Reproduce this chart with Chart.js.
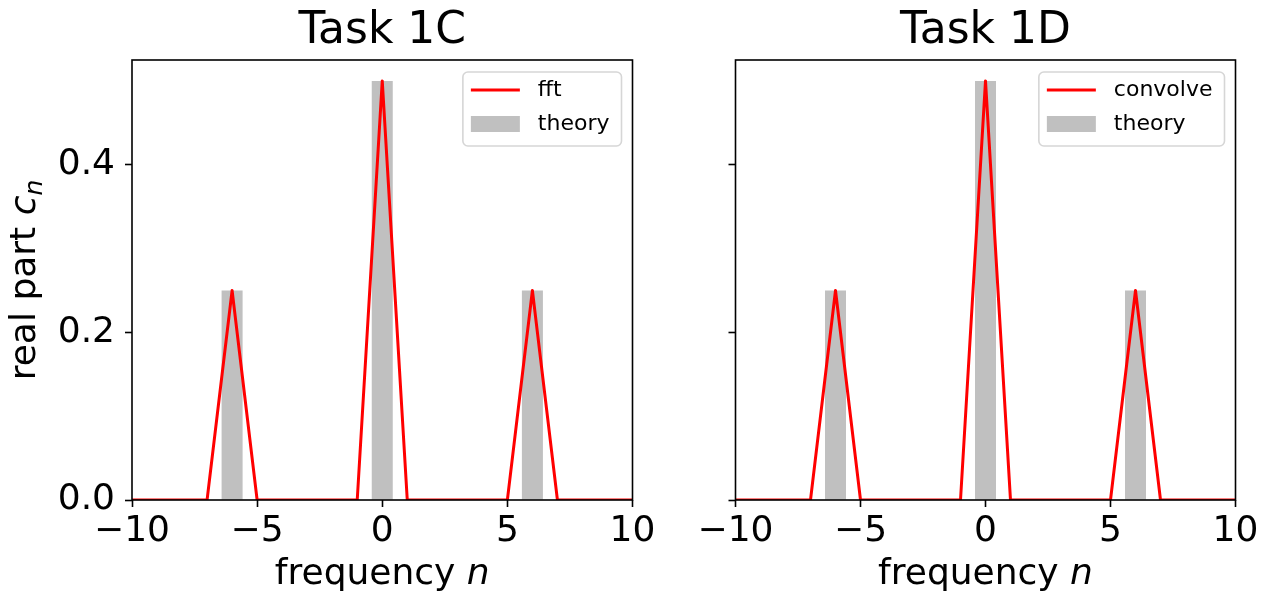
<!DOCTYPE html>
<html>
<head>
<meta charset="utf-8">
<script src="https://cdn.jsdelivr.net/npm/chart.js@4/dist/chart.umd.min.js"></script>
<style>
  html, body { margin: 0; padding: 0; background: #fff; }
  #wrap { position: relative; width: 1270px; height: 603px; }
  canvas { position: absolute; top: 0; }
</style>
</head>
<body>
<div id="wrap">
  <canvas id="c1" width="680" height="603" style="left:0"></canvas>
  <canvas id="c2" width="590" height="603" style="left:680px"></canvas>
</div>
<script>
// data
const freq = [-10, -9, -8, -7, -6, -5, -4, -3, -2, -1, 0, 1, 2, 3, 4, 5, 6, 7, 8, 9, 10];
const fftReal = [0, 0, 0, 0, 0.25, 0, 0, 0, 0, 0, 0.5, 0, 0, 0, 0, 0, 0.25, 0, 0, 0, 0];
const convolveReal = [0, 0, 0, 0, 0.25, 0, 0, 0, 0, 0, 0.5, 0, 0, 0, 0, 0, 0.25, 0, 0, 0, 0];
const theoryN = [-6, 0, 6];
const theoryReal = [0.25, 0.5, 0.25];
const xTicks = [-10, -5, 0, 5, 10];
const xTickLabels = ["\u221210", "\u22125", "0", "5", "10"];
const yTicks = [0, 0.2, 0.4];
const yTickLabels = ["0.0", "0.2", "0.4"];

const FONT = "'DejaVu Sans', sans-serif";
Chart.defaults.font.family = FONT;
Chart.defaults.color = "#000";

// text in pieces so that "n" and "c_n" can be italic
function drawRich(ctx, parts, x, y) {
  let total = 0;
  for (const p of parts) {
    ctx.font = (p.italic ? "italic " : "") + p.size + "px " + FONT;
    p.w = ctx.measureText(p.text).width;
    total += p.w;
  }
  let cx = x - total / 2;
  ctx.textAlign = "left";
  ctx.textBaseline = "alphabetic";
  for (const p of parts) {
    ctx.font = (p.italic ? "italic " : "") + p.size + "px " + FONT;
    ctx.fillText(p.text, cx, y + (p.dy || 0));
    cx += p.w;
  }
}

function drawLegend(chart) {
  const ctx = chart.ctx, a = chart.chartArea;
  const items = chart.data.datasets.slice().sort((p, q) => p.order - q.order);
  ctx.font = "22px " + FONT;
  const tw = Math.max(...items.map(d => ctx.measureText(d.label).width));
  const w = 8 + 49 + 18 + tw + 12, h = 74;
  const x0 = a.right - 11 - w, y0 = a.top + 12;
  ctx.beginPath();
  ctx.roundRect(x0, y0, w, h, 5);
  ctx.fillStyle = "rgba(255,255,255,0.8)";
  ctx.fill();
  ctx.strokeStyle = "#d6d6d6";
  ctx.lineWidth = 1.6;
  ctx.stroke();
  items.forEach((d, k) => {
    const cy = y0 + 18 + k * 34;
    if (d.type === "line") {
      ctx.beginPath();
      ctx.moveTo(x0 + 8, cy);
      ctx.lineTo(x0 + 57, cy);
      ctx.strokeStyle = d.borderColor;
      ctx.lineWidth = d.borderWidth;
      ctx.stroke();
    } else {
      ctx.fillStyle = d.backgroundColor;
      ctx.fillRect(x0 + 8, cy - 8, 49, 16);
    }
    ctx.fillStyle = "#000";
    ctx.font = "22px " + FONT;
    ctx.textAlign = "left";
    ctx.textBaseline = "middle";
    ctx.fillText(d.label, x0 + 75, cy);
  });
}

function decor(xlabel, ylabel) {
  return {
    id: "decor",
    afterDraw(chart) {
      const ctx = chart.ctx, a = chart.chartArea;
      ctx.save();
      // frame round the axes
      ctx.strokeStyle = "#000";
      ctx.lineWidth = 1.6;
      ctx.strokeRect(a.left, a.top, a.right - a.left, a.bottom - a.top);
      drawLegend(chart);
      ctx.fillStyle = "#000";
      drawRich(ctx, xlabel, (a.left + a.right) / 2, 584);
      if (ylabel) {
        ctx.translate(35, (a.top + a.bottom) / 2);
        ctx.rotate(-Math.PI / 2);
        drawRich(ctx, ylabel, 0, 0);
      }
      ctx.restore();
    }
  };
}

function makeChart(id, title, lineLabel, lineValues, yAxisWidth, padRight, showYLabels) {
  return new Chart(document.getElementById(id), {
    type: "line",
    data: {
      datasets: [
        {
          type: "line",
          label: lineLabel,
          data: freq.map((n, i) => ({ x: n, y: lineValues[i] })),
          borderColor: "#ff0000",
          borderWidth: 3,
          borderJoinStyle: "round",
          pointRadius: 0,
          tension: 0,
          fill: false,
          order: 0
        },
        {
          type: "bar",
          label: "theory",
          data: theoryN.map((n, i) => ({ x: n, y: theoryReal[i] })),
          backgroundColor: "#c0c0c0",
          categoryPercentage: 1,
          barPercentage: 0.168, // bar ~0.84 wide, ruler is the 5-unit tick step
          order: 1
        }
      ]
    },
    options: {
      responsive: false,
      animation: false,
      events: [],
      layout: { padding: { left: 0, right: padRight, top: 0, bottom: 0 } },
      scales: {
        x: {
          type: "linear",
          min: -10,
          max: 10,
          offset: false,
          afterBuildTicks: (s) => { s.ticks = xTicks.map(v => ({ value: v })); },
          afterFit: (s) => { s.height = 103; },
          border: { display: false },
          grid: { display: true, drawOnChartArea: false, drawTicks: true, tickLength: 7, tickWidth: 1.6, tickColor: "#000", offset: false },
          ticks: {
            autoSkip: false, maxRotation: 0, padding: 3,
            font: { size: 36 }, color: "#000",
            callback: (v, i) => xTickLabels[i]
          }
        },
        y: {
          min: 0,
          max: 0.525,
          afterBuildTicks: (s) => { s.ticks = yTicks.map(v => ({ value: v })); },
          afterFit: (s) => { s.width = yAxisWidth; },
          border: { display: false },
          grid: { display: true, drawOnChartArea: false, drawTicks: true, tickLength: 7, tickWidth: 1.6, tickColor: "#000" },
          ticks: {
            autoSkip: false, padding: 10,
            font: { size: 36 }, color: "#000",
            callback: (v, i) => showYLabels ? yTickLabels[i] : ""
          }
        }
      },
      plugins: {
        legend: { display: false },
        tooltip: { enabled: false },
        title: {
          display: true,
          fullSize: false,
          text: title,
          color: "#000",
          font: { size: 44, weight: "normal" },
          padding: { top: 5, bottom: 2.2 }
        }
      }
    },
    plugins: [decor(
      [{ text: "frequency ", size: 36 }, { text: "n", size: 36, italic: true }],
      showYLabels ? [{ text: "real part ", size: 36 }, { text: "c", size: 36, italic: true }, { text: "n", size: 25, italic: true, dy: 7 }] : null
    )]
  });
}

makeChart("c1", "Task 1C", "fft", fftReal, 132, 47.5, true);
makeChart("c2", "Task 1D", "convolve", convolveReal, 55.5, 34.5, false);
</script>
</body>
</html>
